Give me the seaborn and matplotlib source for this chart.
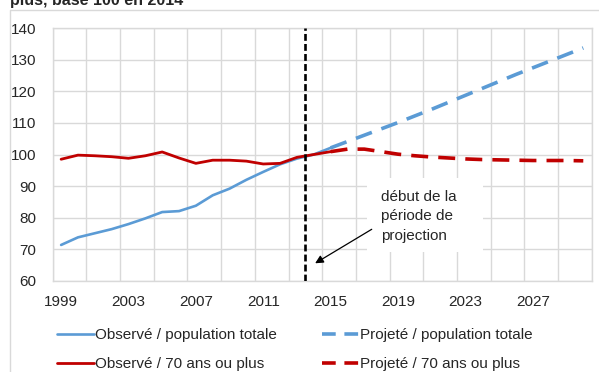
import matplotlib
matplotlib.use("Agg")
import matplotlib.pyplot as plt
from matplotlib.lines import Line2D
from matplotlib.patches import Rectangle
import seaborn as sns
import pandas as pd

# Observed series, 1999-2015 (index, base 100 in 2014)
years_obs = list(range(1999, 2016))
total_obs = [71.4, 73.8, 75.1, 76.4, 78.0, 79.8, 81.8, 82.1, 83.8, 87.1,
             89.2, 92.0, 94.5, 96.9, 98.7, 100.0, 102.1]
old_obs = [98.5, 99.8, 99.6, 99.3, 98.8, 99.6, 100.8, 98.9, 97.2, 98.2,
           98.2, 97.9, 97.0, 97.2, 99.1, 100.0, 100.9]

# Projected series, 2015-2030
years_proj = list(range(2015, 2031))
total_proj = [102.1, 104.1, 106.1, 108.1, 110.1, 112.2, 114.3, 116.5, 118.7,
              120.9, 123.1, 125.3, 127.4, 129.5, 131.6, 133.7]
old_proj = [100.9, 101.7, 101.7, 100.9, 100.1, 99.6, 99.2, 98.9, 98.6,
            98.4, 98.3, 98.2, 98.1, 98.1, 98.1, 98.0]

labels = ["Observé / population totale", "Observé / 70 ans ou plus",
          "Projeté / population totale", "Projeté / 70 ans ou plus"]
tick_years = [1999, 2003, 2007, 2011, 2015, 2019, 2023, 2027]
projection_start = 2013.5

BLUE = "#5b9bd5"
RED = "#c00000"
GRID = "#d9d9d9"

sns.set_style("white")
plt.rcParams["font.family"] = ["Liberation Sans", "DejaVu Sans"]
FS = 11

fig = plt.figure(figsize=(5.99, 3.72), dpi=100)
ax = fig.add_axes([52.7 / 599, 1 - 281 / 372, 539 / 599, 253 / 372])

df_obs = pd.DataFrame({"annee": years_obs, "total": total_obs, "old": old_obs})
df_proj = pd.DataFrame({"annee": years_proj, "total": total_proj, "old": old_proj})

sns.lineplot(data=df_obs, x="annee", y="total", color=BLUE, lw=1.9, ax=ax, zorder=3)
sns.lineplot(data=df_obs, x="annee", y="old", color=RED, lw=2.0, ax=ax, zorder=4)
sns.lineplot(data=df_proj, x="annee", y="total", color=BLUE, lw=2.6, ax=ax, zorder=3)
ax.lines[-1].set_dashes((4.7, 2.8))
sns.lineplot(data=df_proj, x="annee", y="old", color=RED, lw=2.6, ax=ax, zorder=4)
ax.lines[-1].set_dashes((4.7, 2.8))

# start of the projection period
ax.axvline(projection_start, color="black", lw=1.9, dashes=(2.6, 1.2), zorder=5)

ax.set_xlim(1998.5, 2030.5)
ax.set_ylim(60, 140)
ax.set_yticks(range(60, 141, 10))
ax.set_xticks(tick_years)
ax.set_xticks([1998.5 + 2 * k for k in range(17)], minor=True)
ax.set_axisbelow(True)
ax.grid(axis="y", which="major", color=GRID, lw=1.0)
ax.grid(axis="x", which="minor", color=GRID, lw=1.0)
ax.grid(axis="x", which="major", visible=False)
ax.tick_params(axis="both", which="both", length=0)
ax.tick_params(axis="y", pad=12, labelsize=FS)
ax.tick_params(axis="x", pad=10, labelsize=FS)
ax.set_xlabel("")
ax.set_ylabel("")
for s in ax.spines.values():
    s.set_color(GRID)
    s.set_linewidth(1.0)

# annotation box and arrow
ax.add_patch(Rectangle((2017.16, 69.2), 6.9, 23.4, facecolor="white",
                       edgecolor="none", zorder=1))
ax.text(2018.0, 80.4, "début de la\npériode de\nprojection", fontsize=FS,
        ha="left", va="center", linespacing=1.5, zorder=6)
ax.annotate("", xy=(2014.08, 65.6), xytext=(2017.44, 76.35),
            arrowprops=dict(arrowstyle="-|>", color="black", lw=0.9,
                            mutation_scale=12, shrinkA=0, shrinkB=0), zorder=6)

# legend
handles = [Line2D([], [], color=BLUE, lw=1.9),
           Line2D([], [], color=RED, lw=2.0),
           Line2D([], [], color=BLUE, lw=2.6, dashes=(3.8, 2.4)),
           Line2D([], [], color=RED, lw=2.6, dashes=(3.8, 2.4))]
fig.legend(handles, labels, ncol=2, frameon=False, fontsize=FS,
           loc="upper left", bbox_to_anchor=(57 / 599, 1 - 328 / 372),
           handlelength=2.4, handletextpad=0.07, columnspacing=3.0,
           labelspacing=1.0, borderpad=0, borderaxespad=0)

# heading (partly cut by the top edge) and chart frame
fig.text(10 / 599, 1 - 5 / 372, "plus, base 100 en 2014", fontsize=11.5,
         fontweight="bold", ha="left", va="baseline")
fig.add_artist(Line2D([9.5 / 599, 9.5 / 599, 1.0], [0, 1 - 10 / 372, 1 - 10 / 372],
                      color=GRID, lw=1.0, transform=fig.transFigure))

fig.savefig("out.png", dpi=100)
